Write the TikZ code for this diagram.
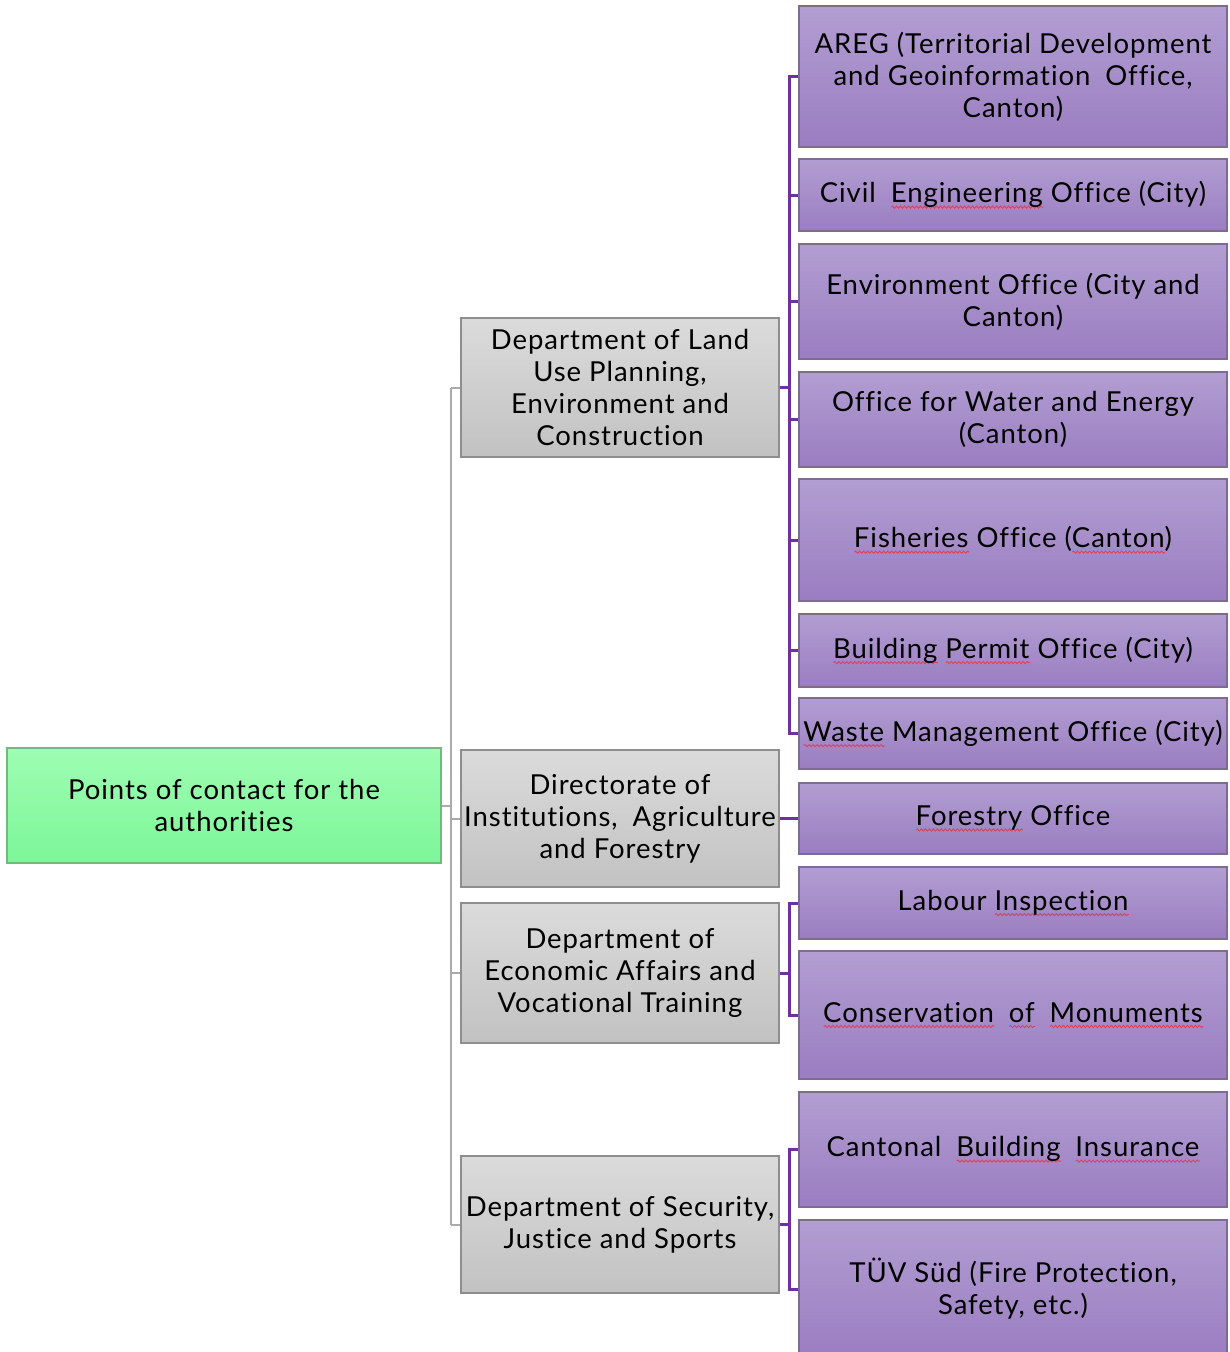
\documentclass[tikz,border=0pt]{standalone}
\usepackage{fontspec}
\setmainfont[LetterSpace=3.5,Ligatures=NoCommon]{Lato}
\usetikzlibrary{calc,decorations.pathmorphing}
\definecolor{ptop}{HTML}{B29ED2}
\definecolor{pbot}{HTML}{9A7DC1}
\definecolor{pbord}{HTML}{7D6C90}
\definecolor{gtop}{HTML}{DBDBDB}
\definecolor{gbot}{HTML}{C2C2C2}
\definecolor{gbord}{HTML}{8E8E8E}
\definecolor{ntop}{HTML}{9EFDB3}
\definecolor{nbot}{HTML}{7DF698}
\definecolor{nbord}{HTML}{70BA82}
\definecolor{pline}{HTML}{7030A0}
\definecolor{gline}{HTML}{ABABAB}
\definecolor{squig}{HTML}{E0405A}
\newsavebox\sqbox
\newcommand\sq[1]{\sbox\sqbox{#1}\rlap{\tikz[baseline=0pt]\draw[draw=squig, line width=0.9pt, decorate, decoration={snake, amplitude=1.1pt, segment length=4pt}] (0pt,-4.5pt) -- (\wd\sqbox,-4.5pt);}\usebox\sqbox}
\tikzset{
  box/.style={rectangle, inner sep=0pt, align=center, line width=1.3pt,
    font=\fontsize{27.5}{32}\selectfont, text=black},
  rootbox/.style={box, draw=nbord, top color=ntop, bottom color=nbot},
  deptbox/.style={box, draw=gbord, top color=gtop, bottom color=gbot, minimum width=318pt},
  leafbox/.style={box, draw=pbord, top color=ptop, bottom color=pbot, minimum width=428pt},
  glink/.style={draw=gline, line width=2pt},
  plink/.style={draw=pline, line width=3pt},
}
\begin{document}
\begin{tikzpicture}[x=1pt,y=-1pt]
\useasboundingbox (0,0) rectangle (1230,1352);
\clip (0,0) rectangle (1230,1352);
% root
\node[rootbox, minimum width=434pt, minimum height=115pt] (root) at (224,805.5) {Points of contact for the\\authorities};
% departments
\node[deptbox, minimum height=139pt] (land) at (620,387.5) {Department of Land\\Use Planning,\\Environment and\\Construction};
\node[deptbox, minimum height=137pt] (dir) at (620,818.5) {Directorate of\\Institutions,\hspace{0.25em} Agriculture\\and Forestry};
\node[deptbox, minimum height=140pt] (econ) at (620,973) {Department of\\Economic Affairs and\\Vocational Training};
\node[deptbox, minimum height=137pt] (sec) at (620,1224.5) {Department of Security,\\Justice and Sports};
% leaves
\node[leafbox, minimum height=141pt] (areg) at (1013,76.5) {AREG (Territorial Development\\and Geoinformation\hspace{0.25em} Office,\\Canton)};
\node[leafbox, minimum height=72pt] (civil) at (1013,195) {Civil\hspace{0.25em} \sq{Engineering} Office (City)};
\node[leafbox, minimum height=115pt] (env) at (1013,301.5) {Environment Office (City and\\Canton)};
\node[leafbox, minimum height=95pt] (water) at (1013,419.5) {Office for Water and Energy\\(Canton)};
\node[leafbox, minimum height=122pt] (fish) at (1013,540) {\sq{Fisheries} Office (\sq{Canton})};
\node[leafbox, minimum height=73pt] (permit) at (1013,650.5) {\sq{Building} \sq{Permit} Office (City)};
\node[leafbox, minimum height=71pt] (waste) at (1013,733.5) {\sq{Waste} Management Office (City)};
\node[leafbox, minimum height=71pt] (forest) at (1013,818.5) {\sq{Forestry} Office};
\node[leafbox, minimum height=72pt] (labour) at (1013,903) {Labour \sq{Inspection}};
\node[leafbox, minimum height=128pt] (cons) at (1013,1015) {\sq{Conservation}\hspace{0.25em} \sq{of}\hspace{0.25em} \sq{Monuments}};
\node[leafbox, minimum height=115pt] (cant) at (1013,1149.5) {Cantonal\hspace{0.25em} \sq{Building}\hspace{0.25em} \sq{Insurance}};
\node[leafbox, minimum height=138pt] (tuv) at (1013,1289) {TÜV Süd (Fire Protection,\\Safety, etc.)};
% gray connectors
\coordinate (gx) at (451,0);
\draw[glink] (root.east) -- (root.east -| gx);
\draw[glink] (gx |- land.west) -- (gx |- sec.west);
\foreach \d in {land,dir,econ,sec}{
  \draw[glink] (gx |- \d.west) -- (\d.west);
}
% purple connectors
\coordinate (px) at (789,0);
\foreach \c in {areg,civil,env,water,fish,permit,waste}{
  \draw[plink] (land.east) -- (px |- land.east) |- (\c.west);
}
\draw[plink] (dir.east) -- (forest.west);
\foreach \c in {labour,cons}{
  \draw[plink] (econ.east) -- (px |- econ.east) |- (\c.west);
}
\foreach \c in {cant,tuv}{
  \draw[plink] (sec.east) -- (px |- sec.east) |- (\c.west);
}
\end{tikzpicture}
\end{document}
